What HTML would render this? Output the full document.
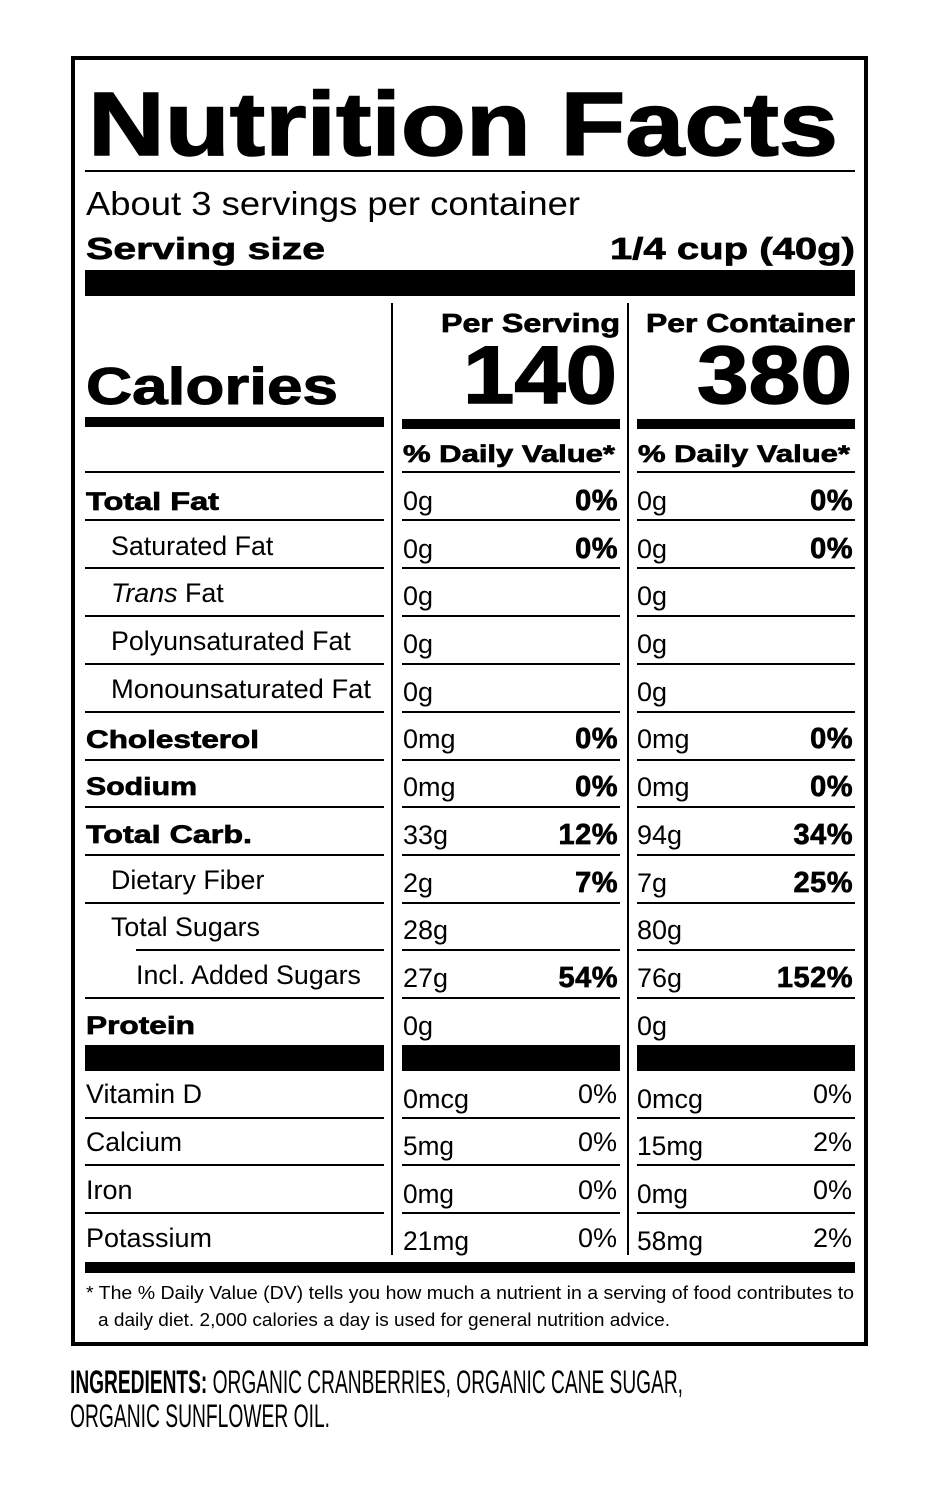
<!DOCTYPE html>
<html><head><meta charset="utf-8"><style>html,body{margin:0;padding:0;background:#fff}svg{display:block}text{font-family:"Liberation Sans",sans-serif;fill:#000}.b{font-weight:bold;stroke:#000;stroke-width:0.7}.r{font-size:25px}.n{font-family:"Liberation Sans Narrow","Liberation Sans",sans-serif;font-size:27px}</style></head><body>
<svg width="930" height="1495" viewBox="0 0 930 1495" xmlns="http://www.w3.org/2000/svg">
<rect x="73" y="58" width="793" height="1286" fill="none" stroke="#000" stroke-width="4"/>
<text x="88" y="155" class="b" font-size="90" textLength="750" lengthAdjust="spacingAndGlyphs" style="stroke-width:1.5">Nutrition Facts</text>
<rect x="85" y="170" width="770" height="2"/>
<text x="86" y="215" font-size="33" textLength="494" lengthAdjust="spacingAndGlyphs">About 3 servings per container</text>
<text x="86" y="259" class="b" font-size="31" textLength="239" lengthAdjust="spacingAndGlyphs">Serving size</text>
<text x="610" y="259" class="b" font-size="31" textLength="245" lengthAdjust="spacingAndGlyphs">1/4 cup (40g)</text>
<rect x="85" y="270" width="770" height="26"/>
<rect x="391" y="303" width="2" height="952"/>
<rect x="627" y="303" width="2" height="952"/>
<text x="441" y="332" class="b" font-size="26" textLength="179" lengthAdjust="spacingAndGlyphs">Per Serving</text>
<text x="646" y="332" class="b" font-size="26" textLength="209" lengthAdjust="spacingAndGlyphs">Per Container</text>
<text x="463" y="403" class="b" font-size="82" textLength="154" lengthAdjust="spacingAndGlyphs" style="stroke-width:1.5">140</text>
<text x="697" y="403" class="b" font-size="82" textLength="155" lengthAdjust="spacingAndGlyphs" style="stroke-width:1.5">380</text>
<text x="86" y="404" class="b" font-size="52" textLength="252" lengthAdjust="spacingAndGlyphs" style="stroke-width:1">Calories</text>
<rect x="85" y="417" width="299" height="10"/>
<rect x="402" y="419" width="218" height="10"/>
<rect x="637" y="419" width="218" height="10"/>
<text x="403" y="462" class="b" font-size="24" textLength="212" lengthAdjust="spacingAndGlyphs">% Daily Value*</text>
<text x="638" y="462" class="b" font-size="24" textLength="212" lengthAdjust="spacingAndGlyphs">% Daily Value*</text>
<rect x="85" y="471" width="299" height="2"/>
<rect x="402" y="471" width="218" height="2"/>
<rect x="637" y="471" width="218" height="2"/>
<g>
<rect x="85" y="519" width="299" height="2"/><rect x="402" y="519" width="218" height="2"/><rect x="637" y="519" width="218" height="2"/>
<rect x="85" y="567" width="299" height="2"/><rect x="402" y="567" width="218" height="2"/><rect x="637" y="567" width="218" height="2"/>
<rect x="85" y="615" width="299" height="2"/><rect x="402" y="615" width="218" height="2"/><rect x="637" y="615" width="218" height="2"/>
<rect x="85" y="663" width="299" height="2"/><rect x="402" y="663" width="218" height="2"/><rect x="637" y="663" width="218" height="2"/>
<rect x="85" y="711" width="299" height="2"/><rect x="402" y="711" width="218" height="2"/><rect x="637" y="711" width="218" height="2"/>
<rect x="85" y="759" width="299" height="2"/><rect x="402" y="759" width="218" height="2"/><rect x="637" y="759" width="218" height="2"/>
<rect x="85" y="806" width="299" height="2"/><rect x="402" y="806" width="218" height="2"/><rect x="637" y="806" width="218" height="2"/>
<rect x="85" y="854" width="299" height="2"/><rect x="402" y="854" width="218" height="2"/><rect x="637" y="854" width="218" height="2"/>
<rect x="85" y="902" width="299" height="2"/><rect x="402" y="902" width="218" height="2"/><rect x="637" y="902" width="218" height="2"/>
<rect x="136" y="949" width="248" height="2"/><rect x="402" y="949" width="218" height="2"/><rect x="637" y="949" width="218" height="2"/>
<rect x="85" y="997" width="299" height="2"/><rect x="402" y="997" width="218" height="2"/><rect x="637" y="997" width="218" height="2"/>
</g>
<g class="r">
<text x="86" y="510" class="b" font-size="25" textLength="133" lengthAdjust="spacingAndGlyphs">Total Fat</text>
<text x="111" y="555" font-size="26.8">Saturated Fat</text>
<text x="111" y="602" font-size="26.8"><tspan font-style="italic">Trans</tspan> Fat</text>
<text x="111" y="650" font-size="26.8">Polyunsaturated Fat</text>
<text x="111" y="698" font-size="26.8" textLength="260" lengthAdjust="spacingAndGlyphs">Monounsaturated Fat</text>
<text x="86" y="748" class="b" font-size="25" textLength="173" lengthAdjust="spacingAndGlyphs">Cholesterol</text>
<text x="86" y="795" class="b" font-size="25" textLength="111" lengthAdjust="spacingAndGlyphs">Sodium</text>
<text x="86" y="843" class="b" font-size="25" textLength="166" lengthAdjust="spacingAndGlyphs">Total Carb.</text>
<text x="111" y="889" font-size="26.8">Dietary Fiber</text>
<text x="111" y="936" font-size="26.8">Total Sugars</text>
<text x="136" y="984" font-size="26.8">Incl. Added Sugars</text>
<text x="86" y="1034" class="b" font-size="25" textLength="109" lengthAdjust="spacingAndGlyphs">Protein</text>
</g>
<g class="n">
<text x="403" y="510">0g</text><text x="637" y="510">0g</text>
<text x="403" y="558">0g</text><text x="637" y="558">0g</text>
<text x="403" y="605">0g</text><text x="637" y="605">0g</text>
<text x="403" y="653">0g</text><text x="637" y="653">0g</text>
<text x="403" y="701">0g</text><text x="637" y="701">0g</text>
<text x="403" y="748">0mg</text><text x="637" y="748">0mg</text>
<text x="403" y="796">0mg</text><text x="637" y="796">0mg</text>
<text x="403" y="844">33g</text><text x="637" y="844">94g</text>
<text x="403" y="892">2g</text><text x="637" y="892">7g</text>
<text x="403" y="939">28g</text><text x="637" y="939">80g</text>
<text x="403" y="987">27g</text><text x="637" y="987">76g</text>
<text x="403" y="1035">0g</text><text x="637" y="1035">0g</text>
</g>
<g class="b" font-size="29" text-anchor="end" letter-spacing="0.5">
<text x="618" y="510">0%</text><text x="853" y="510">0%</text>
<text x="618" y="558">0%</text><text x="853" y="558">0%</text>
<text x="618" y="748">0%</text><text x="853" y="748">0%</text>
<text x="618" y="796">0%</text><text x="853" y="796">0%</text>
<text x="618" y="844">12%</text><text x="853" y="844">34%</text>
<text x="618" y="892">7%</text><text x="853" y="892">25%</text>
<text x="618" y="987">54%</text><text x="853" y="987">152%</text>
</g>
<rect x="85" y="1045" width="299" height="26"/>
<rect x="402" y="1045" width="218" height="26"/>
<rect x="637" y="1045" width="218" height="26"/>
<rect x="85" y="1117" width="299" height="2"/><rect x="402" y="1117" width="218" height="2"/><rect x="637" y="1117" width="218" height="2"/>
<rect x="85" y="1164" width="299" height="2"/><rect x="402" y="1164" width="218" height="2"/><rect x="637" y="1164" width="218" height="2"/>
<rect x="85" y="1212" width="299" height="2"/><rect x="402" y="1212" width="218" height="2"/><rect x="637" y="1212" width="218" height="2"/>
<g class="n">
<text x="86" y="1103" textLength="116" lengthAdjust="spacingAndGlyphs">Vitamin D</text>
<text x="86" y="1151" textLength="96" lengthAdjust="spacingAndGlyphs">Calcium</text>
<text x="86" y="1199">Iron</text>
<text x="86" y="1247" textLength="126" lengthAdjust="spacingAndGlyphs">Potassium</text>
<text x="403" y="1108" textLength="66" lengthAdjust="spacingAndGlyphs">0mcg</text><text x="637" y="1108" textLength="66" lengthAdjust="spacingAndGlyphs">0mcg</text>
<text x="403" y="1155" textLength="51" lengthAdjust="spacingAndGlyphs">5mg</text><text x="637" y="1155" textLength="66" lengthAdjust="spacingAndGlyphs">15mg</text>
<text x="403" y="1203" textLength="51" lengthAdjust="spacingAndGlyphs">0mg</text><text x="637" y="1203" textLength="51" lengthAdjust="spacingAndGlyphs">0mg</text>
<text x="403" y="1250" textLength="66" lengthAdjust="spacingAndGlyphs">21mg</text><text x="637" y="1250" textLength="66" lengthAdjust="spacingAndGlyphs">58mg</text>
</g>
<g class="n" text-anchor="end">
<text x="617" y="1103">0%</text><text x="852" y="1103">0%</text>
<text x="617" y="1151">0%</text><text x="852" y="1151">2%</text>
<text x="617" y="1199">0%</text><text x="852" y="1199">0%</text>
<text x="617" y="1247">0%</text><text x="852" y="1247">2%</text>
</g>
<rect x="85" y="1262" width="770" height="11"/>
<text x="86" y="1299" font-size="18" textLength="768" lengthAdjust="spacingAndGlyphs">* The % Daily Value (DV) tells you how much a nutrient in a serving of food contributes to</text>
<text x="98" y="1326" font-size="18" textLength="572" lengthAdjust="spacingAndGlyphs">a daily diet. 2,000 calories a day is used for general nutrition advice.</text>
<text x="70" y="1393" font-size="32" textLength="613" lengthAdjust="spacingAndGlyphs"><tspan font-weight="bold">INGREDIENTS:</tspan> ORGANIC CRANBERRIES, ORGANIC CANE SUGAR,</text>
<text x="70" y="1427" font-size="32" textLength="260" lengthAdjust="spacingAndGlyphs">ORGANIC SUNFLOWER OIL.</text>
</svg>
</body></html>
